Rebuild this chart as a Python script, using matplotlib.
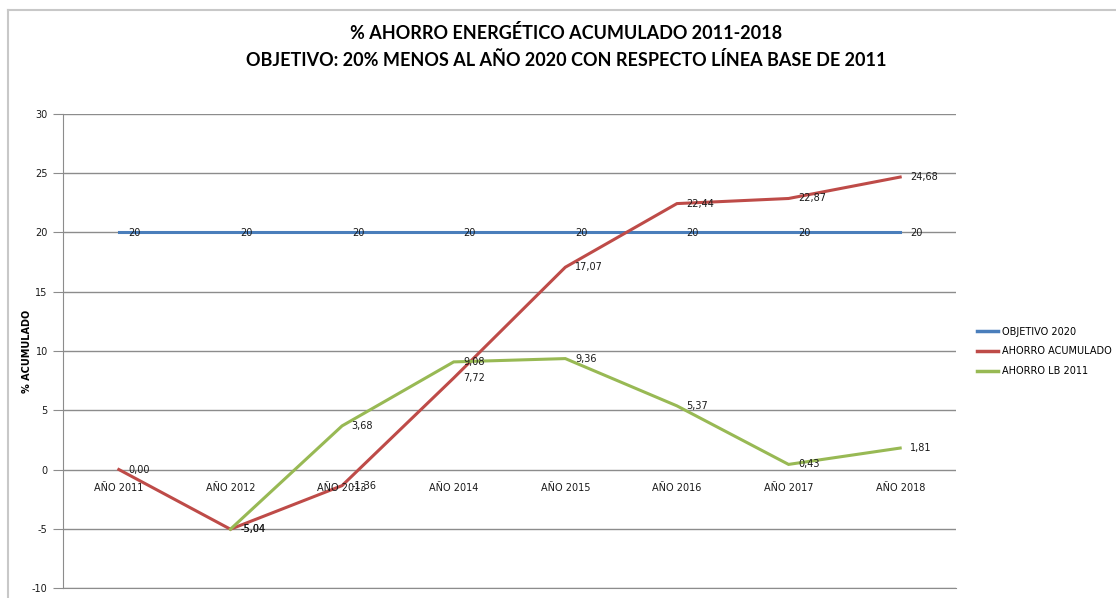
import matplotlib
matplotlib.use("Agg")
import matplotlib.pyplot as plt
from matplotlib.lines import Line2D

plt.rcParams["axes.unicode_minus"] = False

# datos
anios = ["AÑO 2011", "AÑO 2012", "AÑO 2013", "AÑO 2014",
         "AÑO 2015", "AÑO 2016", "AÑO 2017", "AÑO 2018"]
objetivo_2020 = [20, 20, 20, 20, 20, 20, 20, 20]
ahorro_acumulado = [0.00, -5.04, -1.36, 7.72, 17.07, 22.44, 22.87, 24.68]
ahorro_lb_2011 = [None, -5.04, 3.68, 9.08, 9.36, 5.37, 0.43, 1.81]

series = [
    ("OBJETIVO 2020", objetivo_2020, "#4A7EBB", False),
    ("AHORRO ACUMULADO", ahorro_acumulado, "#BE4B48", True),
    ("AHORRO LB 2011", ahorro_lb_2011, "#98B954", True),
]

fig = plt.figure(figsize=(11.16, 5.98), dpi=100)
ax = fig.add_axes([63 / 1116, 1 - 588 / 598, (956 - 63) / 1116, (588 - 114) / 598])

x = list(range(len(anios)))
for nombre, valores, color, decimales in series:
    xs = [i for i, v in zip(x, valores) if v is not None]
    ys = [v for v in valores if v is not None]
    ax.plot(xs, ys, color=color, lw=2.2, label=nombre, solid_joinstyle="miter")
    for xi, yi in zip(xs, ys):
        txt = f"{yi:.2f}".replace(".", ",") if decimales else f"{yi:g}"
        ax.annotate(txt, (xi, yi), xytext=(7, 0), textcoords="offset points",
                    ha="left", va="center", fontsize=7, color="#1a1a1a")

ax.set_xlim(-0.5, 7.5)
ax.set_ylim(-10, 30)
ax.set_yticks(range(-10, 31, 5))
ax.set_xticks([])
ax.grid(axis="y", color="#8c8c8c", lw=1)
ax.set_axisbelow(True)
for s in ["top", "right"]:
    ax.spines[s].set_visible(False)
ax.spines["bottom"].set_color("#8c8c8c")
ax.spines["left"].set_color("#8c8c8c")
ax.tick_params(axis="y", length=7, color="#8c8c8c", labelsize=7, pad=4,
               labelcolor="#1a1a1a")

# etiquetas de categoria bajo el eje 0
for xi, et in zip(x, anios):
    ax.annotate(et, (xi, 0), xytext=(0, -13), textcoords="offset points",
                ha="center", va="center", fontsize=7, color="#1a1a1a")

ax.set_ylabel("% ACUMULADO", fontsize=7, fontweight="bold")
ax.yaxis.set_label_coords((32 - 63) / 893, 0.5)

fig.text(566 / 1116, 1 - 33 / 598, "% AHORRO ENERGÉTICO ACUMULADO 2011-2018",
         ha="center", va="center", fontsize=13, fontweight="bold", family="Lato")
fig.text(566 / 1116, 1 - 60 / 598,
         "OBJETIVO: 20% MENOS AL AÑO 2020 CON RESPECTO LÍNEA BASE DE 2011",
         ha="center", va="center", fontsize=13, fontweight="bold", family="Lato")

handles = [Line2D([0], [0], color=c, lw=2.5) for _, _, c, _ in series]
fig.legend(handles, [n for n, _, _, _ in series], loc="upper left",
           bbox_to_anchor=(968 / 1116, 1 - 318 / 598), frameon=False,
           fontsize=7, handlelength=2.2, handletextpad=0.4, labelspacing=1.0)

# borde del area del grafico
fig.add_artist(Line2D([8 / 1116, 8 / 1116], [0, 1 - 10 / 598], color="#c8c8c8", lw=1.5))
fig.add_artist(Line2D([8 / 1116, 1], [1 - 10 / 598, 1 - 10 / 598], color="#c8c8c8", lw=1.5))

fig.savefig("out.png", dpi=100)
